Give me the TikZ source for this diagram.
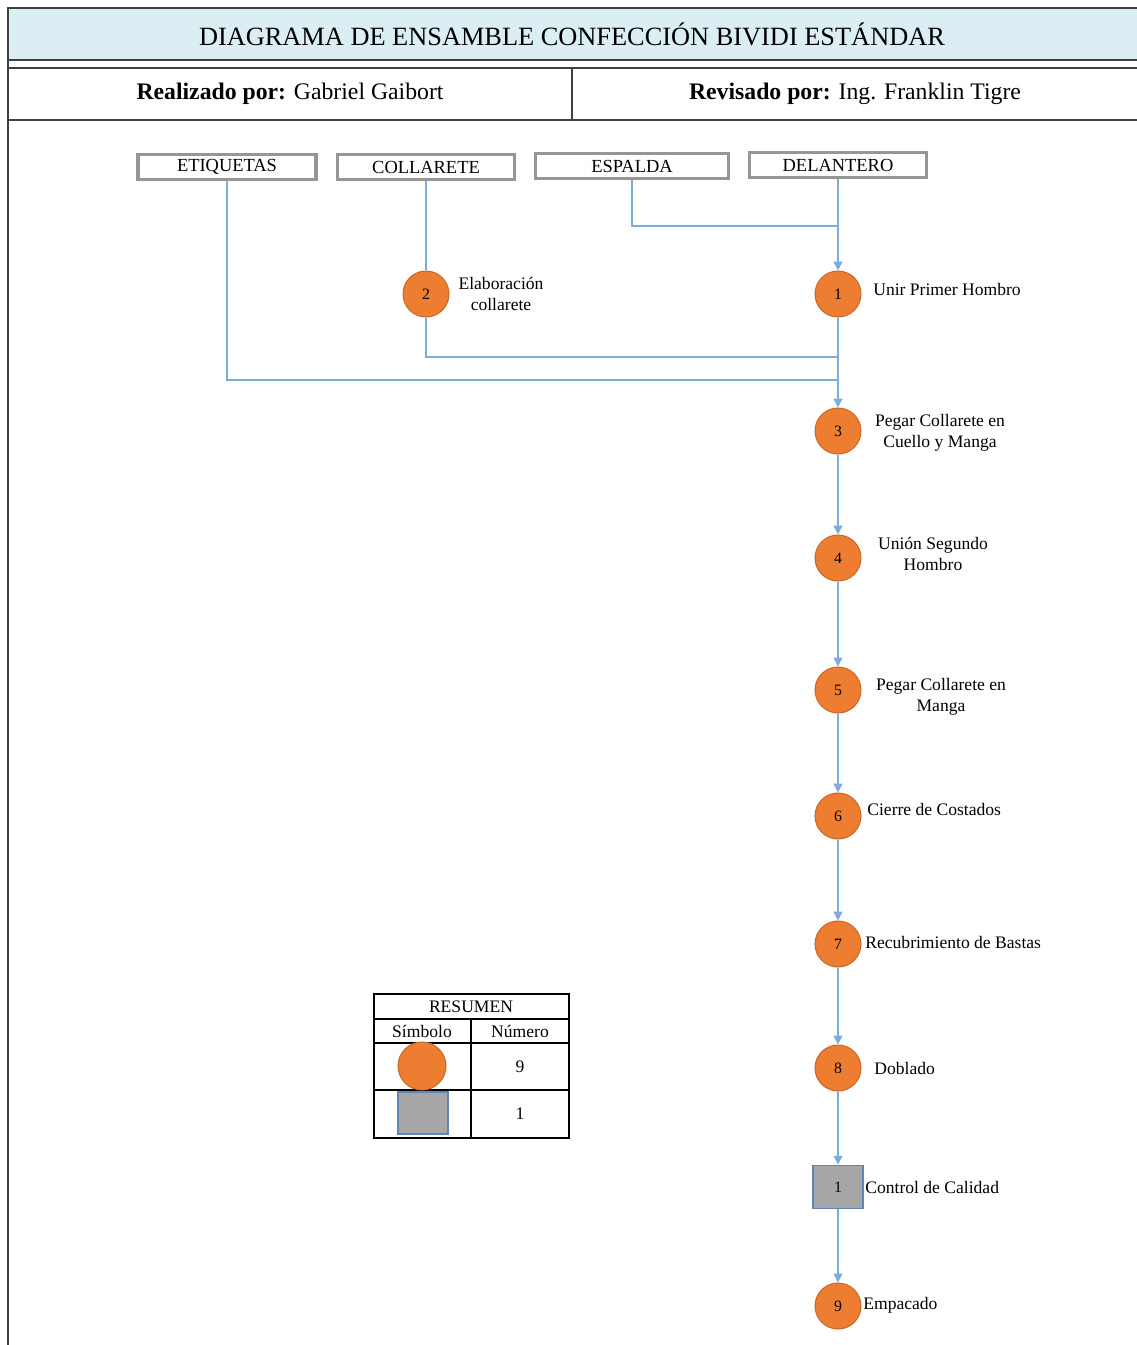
\documentclass[tikz,border=0pt]{standalone}
\usepackage{fontspec}
\setmainfont{Liberation Serif}
\usetikzlibrary{arrows.meta,positioning}
\definecolor{titlebg}{RGB}{219,238,244}
\definecolor{opfill}{RGB}{237,125,49}
\definecolor{opedge}{RGB}{205,105,40}
\definecolor{flowblue}{RGB}{122,172,222}
\definecolor{inspgray}{RGB}{166,166,166}
\definecolor{inspedge}{RGB}{95,135,180}
\definecolor{boxedge}{RGB}{150,150,150}
\tikzset{
  oper/.style={circle, fill=opfill, draw=opedge, line width=0.6pt, minimum size=0.92cm, inner sep=0pt, font=\fontsize{9}{10}\selectfont},
  insp/.style={rectangle, fill=inspgray, draw=inspedge, line width=1pt, minimum width=1cm, minimum height=0.86cm, inner sep=0pt, font=\fontsize{9}{10}\selectfont},
  matbox/.style={draw=boxedge, line width=2pt, minimum height=0.5cm, inner sep=0pt, font=\fontsize{10.5}{12}\selectfont},
  flow/.style={draw=flowblue, line width=0.9pt},
  flowarrow/.style={flow, -{Triangle[width=5pt,length=5pt]}},
  lbl/.style={font=\fontsize{10}{12}\selectfont, align=center, inner sep=0pt},
  cell/.style={font=\fontsize{10}{12}\selectfont, inner sep=0pt}
}
\begin{document}
\begin{tikzpicture}[x=0.02cm,y=-0.02cm]
	%%%%% START %%%%%
	\def\xm{838}
	\def\tw{1140}
	\useasboundingbox (0,0) rectangle (1136,1345);

	% header
	\draw[fill=titlebg, draw=black!75, line width=1pt] (8,8) rectangle (\tw,60);
	\node[font=\fontsize{15}{17}\selectfont] (title) at (572,34) {DIAGRAMA DE ENSAMBLE CONFECCIÓN BIVIDI ESTÁNDAR};
	\draw[draw=black!75, line width=1pt] (8,68) rectangle (\tw,120);
	\draw[draw=black!75, line width=1pt] (572,68) -- (572,120);
	\draw[draw=black!75, line width=1pt] (8,60) -- (8,1345);
	\node[font=\fontsize{13.5}{15}\selectfont] (made) at (290,94) {\textbf{Realizado por:} Gabriel Gaibort};
	\node[font=\fontsize{13.5}{15}\selectfont] (checked) at (855,94) {\textbf{Revisado por:} Ing. Franklin Tigre};

	% materials
	\node[matbox, minimum width=3.56cm] (etq) at (227,167) {ETIQUETAS};
	\node[matbox, minimum width=3.54cm] (col) at (426,167) {COLLARETE};
	\node[matbox, minimum width=3.86cm] (esp) at (632,166) {ESPALDA};
	\node[matbox, minimum width=3.54cm] (del) at (\xm,165) {DELANTERO};

	% operations
	\node[oper] (op1) at (\xm,294) {1};
	\node[oper] (op2) at (426,294) {2};
	\node[oper] (op3) at (\xm,431) {3};
	\node[oper] (op4) at (\xm,558) {4};
	\node[oper] (op5) at (\xm,690) {5};
	\node[oper] (op6) at (\xm,816) {6};
	\node[oper] (op7) at (\xm,944) {7};
	\node[oper] (op8) at (\xm,1068) {8};
	\node[insp] (insp1) at (\xm,1187) {1};
	\node[oper] (op9) at (\xm,1306) {9};

	\node[lbl, anchor=west] (t1) at (873,289) {Unir Primer Hombro};
	\node[lbl] (t2) at (501,294) {Elaboración\\collarete};
	\node[lbl] (t3) at (940,433) {Pegar Collarete en\\Cuello y Manga};
	\node[lbl] (t4) at (933,554) {Unión Segundo\\Hombro};
	\node[lbl] (t5) at (941,697) {Pegar Collarete en\\Manga};
	\node[lbl, anchor=west] (t6) at (867,809) {Cierre de Costados};
	\node[lbl, anchor=west] (t7) at (865,942) {Recubrimiento de Bastas};
	\node[lbl, anchor=west] (t8) at (874,1068) {Doblado};
	\node[lbl, anchor=west] (t9) at (865,1187) {Control de Calidad};
	\node[lbl, anchor=west] (t10) at (863,1305) {Empacado};

	% flow lines
	\coordinate (jesp) at (\xm,226);
	\coordinate (jcol) at (\xm,357);
	\coordinate (jetq) at (\xm,380);
	\draw[flow] (esp.south) |- (jesp);
	\draw[flowarrow] (del.south) -- (op1);
	\draw[flow] (col.south) -- (op2);
	\draw[flow] (op2.south) |- (jcol);
	\draw[flow] (etq.south) |- (jetq);
	\draw[flowarrow] (op1) -- (op3);
	\draw[flowarrow] (op3) -- (op4);
	\draw[flowarrow] (op4) -- (op5);
	\draw[flowarrow] (op5) -- (op6);
	\draw[flowarrow] (op6) -- (op7);
	\draw[flowarrow] (op7) -- (op8);
	\draw[flowarrow] (op8) -- (insp1);
	\draw[flowarrow] (insp1) -- (op9);

	% summary
	\draw[line width=0.9pt] (374,994) rectangle (569,1138);
	\draw[line width=0.9pt] (374,1019) -- (569,1019);
	\draw[line width=0.9pt] (374,1043) -- (569,1043);
	\draw[line width=0.9pt] (374,1090) -- (569,1090);
	\draw[line width=0.9pt] (471,1019) -- (471,1138);
	\node[cell] (sumhead) at (471,1007) {RESUMEN};
	\node[cell] (symhead) at (422,1031) {Símbolo};
	\node[cell] (numhead) at (520,1031) {Número};
	\node[oper, minimum size=0.96cm] (symop) at (422,1066) {};
	\node[cell] (numop) at (520,1067) {9};
	\node[insp, minimum width=1cm, minimum height=0.84cm] (syminsp) at (423,1113) {};
	\node[cell] (numinsp) at (520,1114) {1};
	%%%%% START %%%%%
\end{tikzpicture}
\end{document}
